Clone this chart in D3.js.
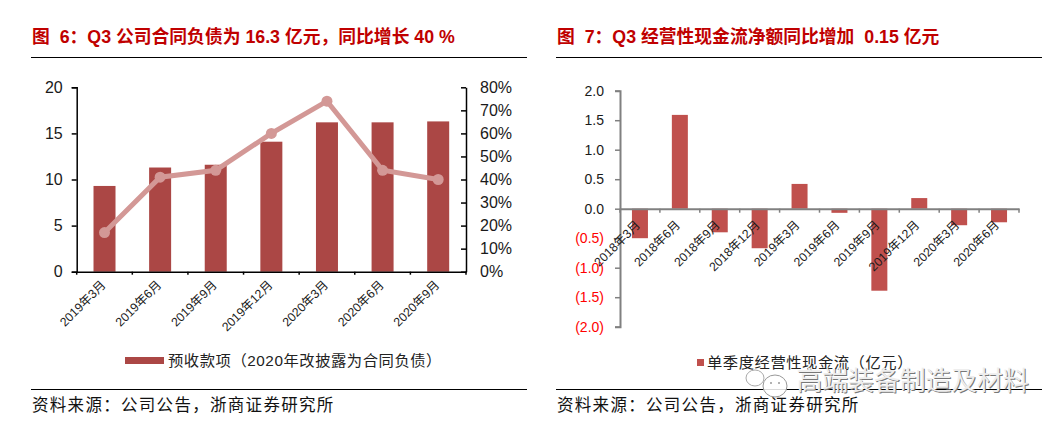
<!DOCTYPE html>
<html>
<head>
<meta charset="utf-8">
<script src="https://cdn.jsdelivr.net/npm/d3@7/dist/d3.min.js"></script>
<style>
html, body { margin: 0; padding: 0; background: #fff; }
svg { display: block; }
text { font-family: "Liberation Sans", "Noto Sans CJK SC", sans-serif; white-space: pre; }
</style>
</head>
<body>
<div id="chart"></div>
<script>
// left chart
var leftMonths = ["2019年3月", "2019年6月", "2019年9月", "2019年12月", "2020年3月", "2020年6月", "2020年9月"];
var leftBars = [9.3, 11.3, 11.6, 14.1, 16.2, 16.2, 16.3];
var leftLine = [0.17, 0.41, 0.44, 0.60, 0.74, 0.44, 0.40];

// right chart
var rightMonths = ["2018年3月", "2018年6月", "2018年9月", "2018年12月", "2019年3月", "2019年6月", "2019年9月", "2019年12月", "2020年3月", "2020年6月"];
var rightBars = [-0.50, 1.59, -0.40, -0.67, 0.42, -0.07, -1.39, 0.18, -0.28, -0.23];
var rightTicks = [2, 1.5, 1, 0.5, 0, -0.5, -1, -1.5, -2];

var svg = d3.select("#chart").append("svg").attr("width", 1063).attr("height", 427);

// titles, rules and source lines
function frame(x0, x1, title, tx) {
    svg.append("text").attr("x", tx).attr("y", 43)
        .attr("font-size", 17.8).attr("font-weight", "bold").attr("fill", "#c00000")
        .text(title);
    [57.5, 389.5].forEach(function (y) {
        svg.append("line").attr("x1", x0).attr("x2", x1).attr("y1", y).attr("y2", y)
            .attr("stroke", "#000").attr("stroke-width", 1);
    });
    svg.append("text").attr("x", tx).attr("y", 411)
        .attr("font-size", 16.5).attr("letter-spacing", 1.3).attr("fill", "#111")
        .text("资料来源：公司公告，浙商证券研究所");
}
frame(31, 527, "图  6：Q3 公司合同负债为 16.3 亿元，同比增长 40 %", 32);
frame(556, 1042, "图  7：Q3 经营性现金流净额同比增加  0.15 亿元", 557);

// ---- left chart ----
var x1 = d3.scaleBand().domain(leftMonths).range([76.7, 466]);
var y1 = d3.scaleLinear().domain([0, 20]).range([271.7, 87.3]);
var y1r = d3.scaleLinear().domain([0, 0.8]).range([271.7, 87.3]);

svg.append("g").selectAll("rect").data(leftBars).enter().append("rect")
    .attr("x", (d, i) => x1(leftMonths[i]) + x1.bandwidth() / 2 - 11)
    .attr("width", 22)
    .attr("y", d => y1(d))
    .attr("height", d => y1(0) - y1(d))
    .attr("fill", "#ab4745");

var valueline = d3.line()
    .x((d, i) => x1(leftMonths[i]) + x1.bandwidth() / 2)
    .y(d => y1r(d));

svg.append("path").attr("d", valueline(leftLine))
    .attr("fill", "none").attr("stroke", "#d39896").attr("stroke-width", 5);
svg.append("g").selectAll("circle").data(leftLine).enter().append("circle")
    .attr("cx", (d, i) => x1(leftMonths[i]) + x1.bandwidth() / 2)
    .attr("cy", d => y1r(d))
    .attr("r", 5.5)
    .attr("fill", "#d39896");

function styleAxis(g, color, width, size, fill) {
    g.selectAll(".domain").attr("stroke", color).attr("stroke-width", width);
    g.selectAll(".tick line").attr("stroke", color).attr("stroke-width", Math.min(width, 1.5));
    g.selectAll("text").attr("font-size", size).attr("fill", fill);
}

var leftAxis = svg.append("g").attr("transform", "translate(76.7,0)")
    .call(d3.axisLeft(y1).tickValues([0, 5, 10, 15, 20]).tickSize(5).tickPadding(9));
styleAxis(leftAxis, "#000", 1.5, 16, "#1a1a1a");

var rightAxis = svg.append("g").attr("transform", "translate(466,0)")
    .call(d3.axisRight(y1r).tickValues(d3.range(0, 9).map(d => d / 10)).tickFormat(d3.format(".0%")).tickSize(0).tickPadding(14));
styleAxis(rightAxis, "#000", 1.5, 16, "#1a1a1a");
rightAxis.selectAll(".tick line").attr("x2", -5).attr("stroke-width", 1.5);

var bottomAxis = svg.append("g").attr("transform", "translate(0,271.7)")
    .call(d3.axisBottom(x1).tickSize(0));
styleAxis(bottomAxis, "#000", 1.5, 12.3, "#1a1a1a");
bottomAxis.selectAll(".tick line").remove();
bottomAxis.selectAll(".tick text")
    .attr("text-anchor", "end")
    .attr("y", 0)
    .attr("dy", 0)
    .attr("transform", "translate(2,14) rotate(-45)");
bottomAxis.selectAll(".sep").data(d3.range(0, 8)).enter().append("line")
    .attr("class", "sep")
    .attr("x1", d => 76.7 + d * x1.step()).attr("x2", d => 76.7 + d * x1.step())
    .attr("y1", 0).attr("y2", 3)
    .attr("stroke", "#000").attr("stroke-width", 1.5);

// legend
svg.append("rect").attr("x", 125).attr("y", 357).attr("width", 39).attr("height", 7).attr("fill", "#ab4745");
svg.append("text").attr("x", 168).attr("y", 366).attr("font-size", 15.3).attr("letter-spacing", 0.55).attr("fill", "#222")
    .text("预收款项（2020年改披露为合同负债）");

// ---- right chart ----
var x2 = d3.scaleBand().domain(rightMonths).range([620, 1019]);
var y2 = d3.scaleLinear().domain([-2, 2]).range([326.7, 90.7]);

svg.append("g").selectAll("rect").data(rightBars).enter().append("rect")
    .attr("x", (d, i) => x2(rightMonths[i]) + x2.bandwidth() / 2 - 8)
    .attr("width", 16)
    .attr("y", d => y2(Math.max(d, 0)))
    .attr("height", d => Math.abs(y2(d) - y2(0)))
    .attr("fill", "#c0504d");

var axis2 = svg.append("g").attr("transform", "translate(620,0)")
    .call(d3.axisLeft(y2).tickValues(rightTicks).tickSize(5).tickPadding(11)
        .tickFormat(d => d < 0 ? "(" + d3.format(".1f")(-d) + ")" : d3.format(".1f")(d)));
styleAxis(axis2, "#808080", 2, 14, "#1a1a1a");
axis2.selectAll(".tick text").attr("fill", d => d < 0 ? "#ff0000" : "#1a1a1a");

var base2 = svg.append("g").attr("transform", "translate(0," + y2(0) + ")")
    .call(d3.axisBottom(x2).tickSize(0));
styleAxis(base2, "#808080", 2, 12.3, "#1a1a1a");
base2.selectAll(".tick line").remove();
base2.selectAll(".tick text")
    .attr("text-anchor", "end")
    .attr("y", 0)
    .attr("dy", 0)
    .attr("transform", "translate(1,17) rotate(-45)");
base2.selectAll(".sep").data(d3.range(0, 11)).enter().append("line")
    .attr("class", "sep")
    .attr("x1", d => 620 + d * x2.step()).attr("x2", d => 620 + d * x2.step())
    .attr("y1", 0).attr("y2", 4)
    .attr("stroke", "#808080").attr("stroke-width", 1.5);

// legend
svg.append("rect").attr("x", 697).attr("y", 359).attr("width", 7).attr("height", 7).attr("fill", "#c0504d");
svg.append("text").attr("x", 707).attr("y", 368).attr("font-size", 15.3).attr("letter-spacing", 0.55).attr("fill", "#222")
    .text("单季度经营性现金流（亿元）");

// watermark
var mark = svg.append("g");
mark.append("ellipse").attr("cx", 755).attr("cy", 378).attr("rx", 9).attr("ry", 8)
    .attr("fill", "#fff").attr("fill-opacity", 0.75).attr("stroke", "#aaa");
mark.append("ellipse").attr("cx", 775).attr("cy", 386).attr("rx", 12).attr("ry", 11)
    .attr("fill", "#fff").attr("fill-opacity", 0.85).attr("stroke", "#999");
[771, 779].forEach(function (cx) {
    mark.append("circle").attr("cx", cx).attr("cy", 383).attr("r", 1).attr("fill", "#999");
});
mark.append("text").attr("x", 797.5).attr("y", 390.5).attr("font-size", 25.8).attr("fill", "#777").text("高端装备制造及材料");
mark.append("text").attr("x", 796.5).attr("y", 389.5).attr("font-size", 25.8).attr("fill", "#eee").text("高端装备制造及材料");
</script>
</body>
</html>
